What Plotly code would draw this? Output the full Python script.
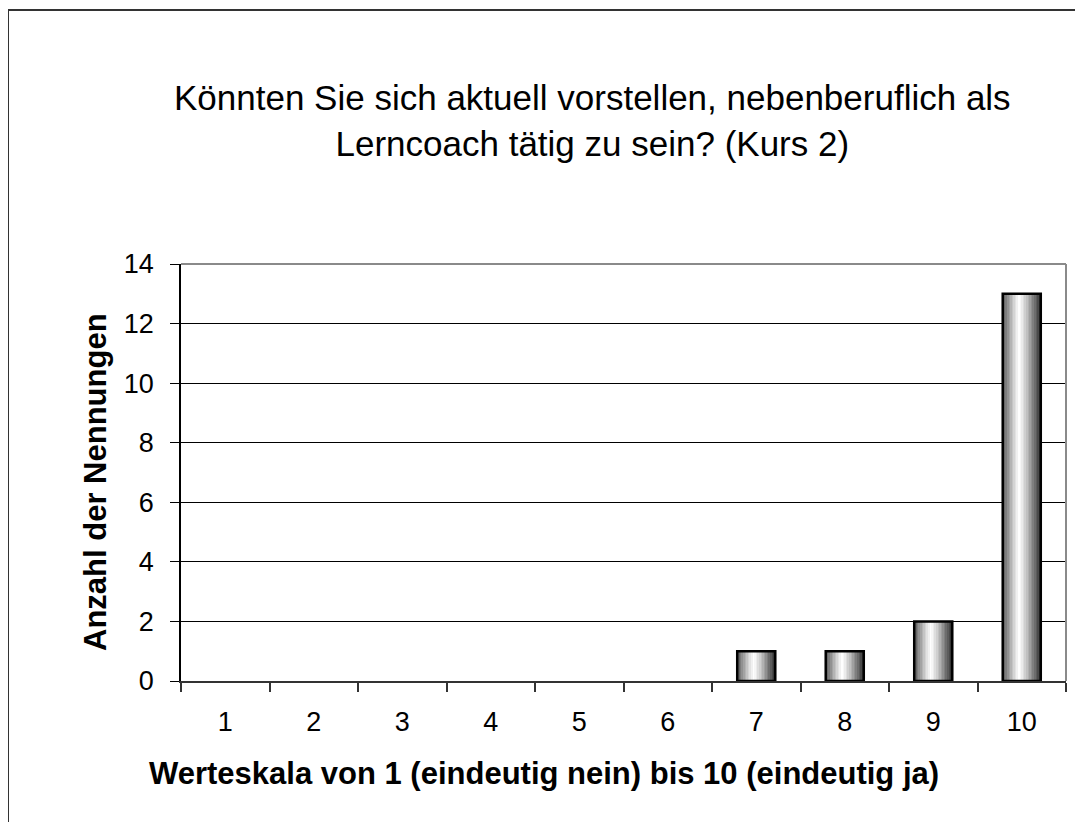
import plotly.graph_objects as go

categories = ["1", "2", "3", "4", "5", "6", "7", "8", "9", "10"]
counts = [0, 0, 0, 0, 0, 0, 1, 1, 2, 13]

title_lines = ["Könnten Sie sich aktuell vorstellen, nebenberuflich als",
               "Lerncoach tätig zu sein? (Kurs 2)"]
x_title = "Werteskala von 1 (eindeutig nein) bis 10 (eindeutig ja)"
y_title = "Anzahl der Nennungen"

# page body has an 8px margin; shrink the figure so it fits the window exactly
OFF = 8
WIN_W, WIN_H = 1083, 822
W, H = WIN_W - OFF, WIN_H - OFF
# target pixel positions in the window
L, R, T, B = 181, 1066, 264, 681
FONT = "Liberation Sans, Arial, sans-serif"

fig = go.Figure()

bar_w = 0.43
n = 24
def shade(t):
    peak = 0.44
    if t <= peak:
        v = 0.2 + (1.0 - 0.2) * (t / peak) ** 0.7
    else:
        v = 1.0 - (1.0 - 0.18) * ((t - peak) / (1 - peak)) ** 1.2
    g = int(round(255 * max(0, min(1, v))))
    return f"rgb({g},{g},{g})"

for i in range(n):
    t = (i + 0.5) / n
    fig.add_trace(go.Bar(
        x=categories, y=counts,
        width=bar_w / n * 1.08,
        offset=-bar_w / 2 + i * bar_w / n,
        marker=dict(color=shade(t), line=dict(width=0)),
        hoverinfo="skip", showlegend=False,
    ))

fig.add_trace(go.Bar(
    x=categories, y=counts, width=bar_w, offset=-bar_w / 2,
    marker=dict(color="rgba(0,0,0,0)",
                line=dict(color="black", width=[2.5 if v else 0 for v in counts])),
    hoverinfo="skip", showlegend=False,
))

pw, ph = R - L, B - T
def px(x):
    return (x - L) / pw
def py(y):
    return (B - y) / ph

fig.update_layout(
    width=W, height=H,
    margin=dict(l=L - OFF, r=WIN_W - R, t=T - OFF, b=WIN_H - B, pad=0),
    paper_bgcolor="white", plot_bgcolor="white",
    barmode="overlay",
    font=dict(family=FONT, color="black"),
    xaxis=dict(
        type="category", showgrid=False,
        showline=True, linecolor="#333333", linewidth=2,
        ticks="outside", tickson="boundaries", ticklen=9, tickcolor="#333333", tickwidth=1.5,
        tickfont=dict(size=27, family=FONT, color="black"),
        ticklabelstandoff=16,
    ),
    yaxis=dict(
        range=[0, 14], dtick=2, showgrid=True, gridcolor="black", gridwidth=1,
        showline=True, linecolor="black", linewidth=1.5,
        ticks="outside", ticklen=9, tickcolor="black", tickwidth=1,
        tickfont=dict(size=27, family=FONT, color="black"),
        ticklabelstandoff=11, zeroline=False,
    ),
    annotations=[
        dict(text="<br>".join(title_lines), xref="paper", yref="paper",
             x=px(592), y=py(121), xanchor="center", yanchor="middle",
             showarrow=False, font=dict(size=35, family=FONT, color="black")),
        dict(text=f"<b>{x_title}</b>", xref="paper", yref="paper",
             x=px(544), y=py(773), xanchor="center", yanchor="middle",
             showarrow=False, font=dict(size=31, family=FONT, color="black")),
        dict(text=f"<b>{y_title}</b>", xref="paper", yref="paper",
             x=px(95), y=py(482), xanchor="center", yanchor="middle", textangle=-90,
             showarrow=False, font=dict(size=31, family=FONT, color="black")),
    ],
    shapes=[
        dict(type="line", xref="paper", yref="paper", x0=0, x1=1, y0=1, y1=1,
             line=dict(color="#8a8a8a", width=2)),
        dict(type="line", xref="paper", yref="paper", x0=1, x1=1, y0=0, y1=1,
             line=dict(color="#8a8a8a", width=2)),
        dict(type="rect", xref="paper", yref="paper",
             x0=px(8), x1=px(1100), y0=py(10), y1=py(840),
             line=dict(color="#333333", width=2), fillcolor="rgba(0,0,0,0)", layer="above"),
    ],
)

fig.write_html("out.html")
